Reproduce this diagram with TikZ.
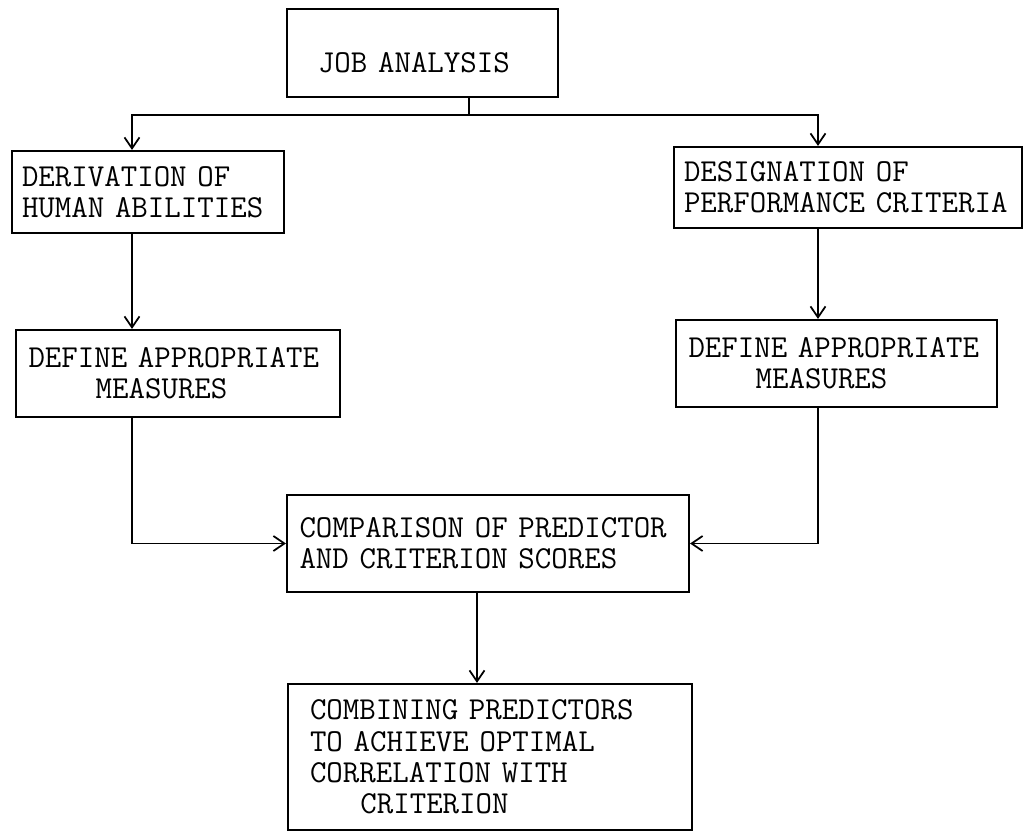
\documentclass[tikz,border=0pt]{standalone}
\usepackage{fontspec}
\usepackage{tikz}
\usetikzlibrary{arrows.meta}

\begin{document}
\begin{tikzpicture}[
            stepbox/.style={draw, line width=1.2pt, align=left, inner xsep=0.25cm,
                font=\ttfamily\fontsize{18.2}{17.8}\selectfont},
            flow/.style={line width=1pt, arrows={-Straight Barb[length=0.22cm, width=0.3cm]}}]
            
            \useasboundingbox (0,0) rectangle (20.48,16.62);
            
            \node[stepbox, text width=4.18cm, inner xsep=0.62cm, minimum height=1.76cm,
                text height=0.8cm, text depth=0pt] (job) at (8.45,15.56) {JOB ANALYSIS};
            
            \node[stepbox, text width=5.04cm, inner xsep=0.2cm, minimum height=1.64cm] (derive) at (2.96,12.78)
            {DERIVATION OF\\HUMAN ABILITIES};
            
            \node[stepbox, text width=6.56cm, inner xsep=0.2cm, minimum height=1.62cm] (design) at (16.96,12.87)
            {DESIGNATION OF\\PERFORMANCE CRITERIA};
            
            \node[stepbox, text width=5.98cm, minimum height=1.74cm] (lmeasure) at (3.56,9.15)
            {DEFINE APPROPRIATE\\\hspace*{2.1em}MEASURES};
            
            \node[stepbox, text width=5.92cm, minimum height=1.74cm] (rmeasure) at (16.73,9.35)
            {DEFINE APPROPRIATE\\\hspace*{2.1em}MEASURES};
            
            \node[stepbox, text width=7.54cm, minimum height=1.94cm] (compare) at (9.76,5.75)
            {COMPARISON OF PREDICTOR\\AND CRITERION SCORES};
            
            \node[stepbox, text width=7.2cm, inner xsep=0.44cm, minimum height=2.92cm] (combine) at (9.8,1.48)
            {COMBINING PREDICTORS\\TO ACHIEVE OPTIMAL\\CORRELATION WITH\\\hspace*{1.575em}CRITERION};
            
            \coordinate (split) at (9.38,14.32);
            \coordinate (lbranch) at (2.64,14.32);
            \coordinate (rbranch) at (16.36,14.32);
            \coordinate (down) at (9.54,4);
            
            \draw[flow] (job.south -| split) -- (split) -| (lbranch |- derive.north);
            
            \draw[flow] (split) -| (rbranch |- design.north);
            
            \draw[flow] (derive.south -| lbranch) -- (lmeasure.north -| lbranch);
            
            \draw[flow] (design.south -| rbranch) -- (rmeasure.north -| rbranch);
            
            \draw[flow] (lmeasure.south -| lbranch) |- (compare.west);
            
            \draw[flow] (rmeasure.south -| rbranch) |- (compare.east);
            
            \draw[flow] (compare.south -| down) -- (combine.north -| down);
            
\end{tikzpicture}
\end{document}
